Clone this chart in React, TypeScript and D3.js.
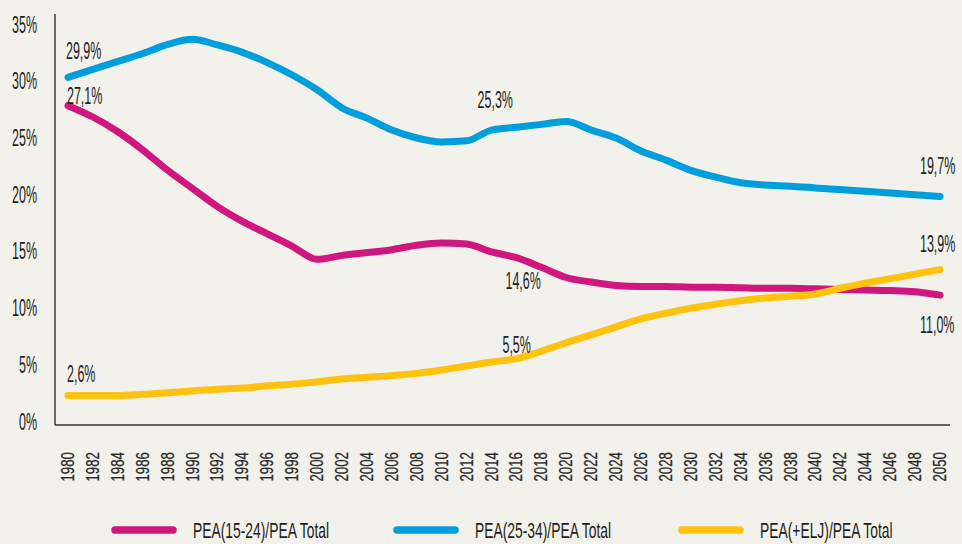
import React from "react";
import * as d3 from "d3";

const years = [1980,1982,1984,1986,1988,1990,1992,1994,1996,1998,2000,2002,2004,2006,2008,2010,2012,2014,2016,2018,2020,2022,2024,2026,2028,2030,2032,2034,2036,2038,2040,2042,2044,2046,2048,2050];
const pea1524 = [27.8,26.8,25.5,23.9,22.1,20.5,18.9,17.6,16.5,15.4,14.25,14.6,14.85,15.1,15.5,15.7,15.6,14.9,14.4,13.55,12.65,12.25,11.95,11.85,11.85,11.8,11.8,11.75,11.7,11.7,11.65,11.6,11.55,11.5,11.4,11.1];
const pea2534 = [30.3,31.0,31.7,32.4,33.2,33.65,33.15,32.5,31.6,30.5,29.2,27.6,26.7,25.65,24.95,24.6,24.7,25.65,25.9,26.15,26.4,25.65,24.95,23.8,23.0,22.1,21.5,21.0,20.8,20.7,20.55,20.4,20.25,20.1,19.95,19.8];
const peaElj = [2.25,2.25,2.25,2.35,2.5,2.65,2.8,2.9,3.1,3.25,3.45,3.7,3.85,4.0,4.2,4.5,4.85,5.2,5.5,6.15,6.9,7.6,8.3,9.0,9.5,9.95,10.3,10.6,10.85,11.0,11.2,11.7,12.15,12.55,12.95,13.35];
const yTicks = [0,5,10,15,20,25,30,35];
const seriesNames = ["PEA(15-24)/PEA Total","PEA(25-34)/PEA Total","PEA(+ELJ)/PEA Total"];
const seriesColors = ["#D0167F","#009FDC","#FFC20F"];
const annotations = [
  { s: 1, year: 1980, text: "29,9%" },
  { s: 0, year: 1980, text: "27,1%" },
  { s: 2, year: 1980, text: "2,6%" },
  { s: 1, year: 2014, text: "25,3%" },
  { s: 0, year: 2016, text: "14,6%" },
  { s: 2, year: 2016, text: "5,5%" },
  { s: 1, year: 2050, text: "19,7%" },
  { s: 2, year: 2050, text: "13,9%" },
  { s: 0, year: 2050, text: "11,0%" },
];
// layout offsets for annotations (dx, dy relative to the data point)
const annOffsets = [[-2,-18],[-1,-2],[-1,-13],[-14,-22],[-11,31],[-14,-6],[-20,-22],[-20,-18],[-20,38]];

const W = 962, H = 544;
const BG = "#F2F1EB";
const TXT = "#231F20";
const FONT = "'Liberation Sans',Arial,sans-serif";

function CText({ x, y, size, sx, anchor = "start", children, weight = 400 }: any) {
  return (
    <text
      transform={`translate(${x},${y}) scale(${sx},1)`}
      fontFamily={FONT}
      fontSize={size}
      fontWeight={weight}
      fill={TXT}
      textAnchor={anchor}
    >
      {children}
    </text>
  );
}

export default function App() {
  const x = d3.scaleLinear().domain([1980, 2050]).range([68, 940]);
  const y = d3.scaleLinear().domain([0, 35]).range([421, 24]);
  const all = [pea1524, pea2534, peaElj];
  const line = d3
    .line<number>()
    .x((_, i) => x(years[i]))
    .y((d) => y(d))
    .curve(d3.curveMonotoneX);

  const axisX = 55;
  const axisBottom = y(0) + 4;

  const legendX = [115, 397, 682];
  const legendY = 530;

  return (
    <svg
      width={W}
      height={H}
      style={{ position: "absolute", left: 0, top: 0, display: "block" }}
    >
      <rect x={0} y={0} width={W} height={H} fill={BG} />
      {/* axes */}
      <line x1={axisX} x2={axisX} y1={14} y2={axisBottom} stroke="#333" strokeWidth={1.4} />
      <line x1={axisX} x2={950} y1={axisBottom} y2={axisBottom} stroke="#333" strokeWidth={1.4} />
      {/* y tick labels */}
      {yTicks.map((t) => (
        <CText key={t} x={37} y={y(t) + 8.5} size={24} sx={0.52} anchor="end">
          {`${t}%`}
        </CText>
      ))}
      {/* x tick labels */}
      {years.map((yr) => (
        <text
          key={yr}
          transform={`translate(${x(yr) + 6},452) rotate(-90) scale(0.76,1)`}
          fontFamily={FONT}
          fontSize={17.5}
          fill="#2a2a2a"
          stroke="#2a2a2a"
          strokeWidth={0.25}
          textAnchor="end"
        >
          {yr}
        </text>
      ))}
      {/* lines */}
      {all.map((vals, i) => (
        <path
          key={i}
          d={line(vals) || ""}
          fill="none"
          stroke={seriesColors[i]}
          strokeWidth={7}
          strokeLinecap="round"
          strokeLinejoin="round"
        />
      ))}
      {/* annotations */}
      {annotations.map((a, i) => {
        const idx = years.indexOf(a.year);
        const v = all[a.s][idx];
        return (
          <CText
            key={i}
            x={x(a.year) + annOffsets[i][0]}
            y={y(v) + annOffsets[i][1]}
            size={24}
            sx={0.52}
          >
            {a.text}
          </CText>
        );
      })}
      {/* legend */}
      {seriesNames.map((n, i) => (
        <g key={n}>
          <line
            x1={legendX[i]}
            x2={legendX[i] + 58}
            y1={legendY}
            y2={legendY}
            stroke={seriesColors[i]}
            strokeWidth={7.5}
            strokeLinecap="round"
          />
          <CText x={legendX[i] + 78} y={legendY + 8} size={22} sx={0.63}>
            {n}
          </CText>
        </g>
      ))}
    </svg>
  );
}
